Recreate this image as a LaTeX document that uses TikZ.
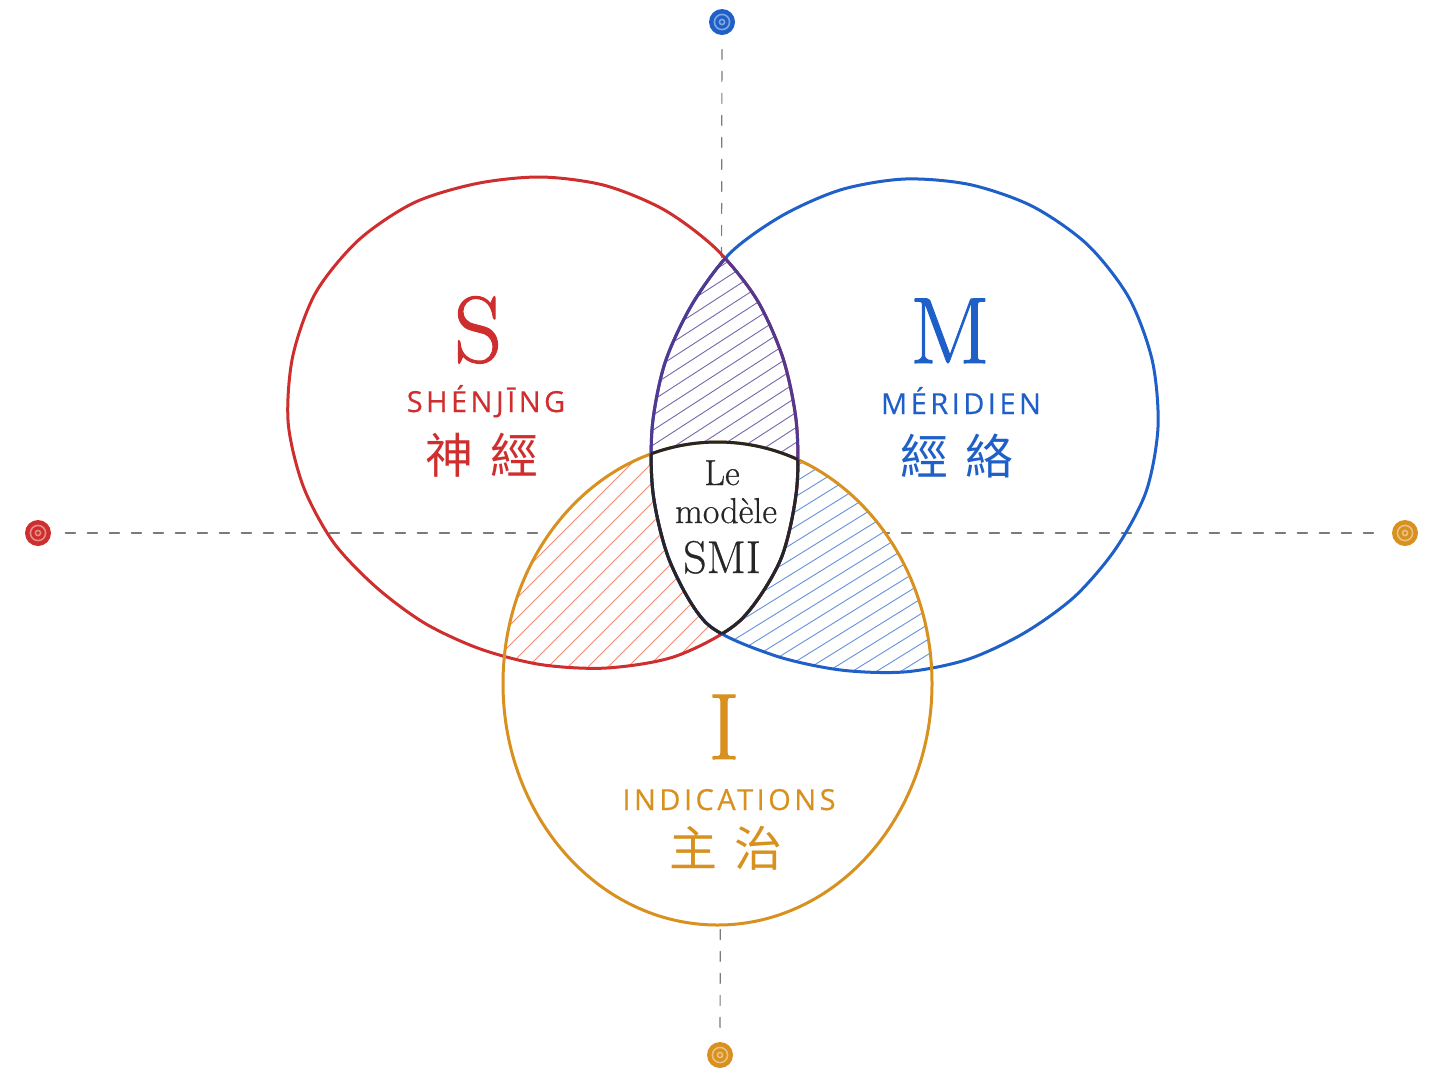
\documentclass[tikz,border=0pt]{standalone}
\usepackage{fontspec}
\usepackage{tikz}
\usetikzlibrary{positioning}
\newfontfamily\capsfont[LetterSpace=12, FakeBold=0.4]{Open Sans}
\newfontfamily\hanfont{Noto Sans CJK TC}
\newfontfamily\initialfont[FakeBold=1.2]{Latin Modern Roman}
\newfontfamily\modelfont[FakeBold=0.6]{Latin Modern Roman}
\definecolor{smired}{HTML}{CF2E2E}
\definecolor{smiblue}{HTML}{1F5FC8}
\definecolor{smiorange}{HTML}{D8901E}
\definecolor{smipurple}{HTML}{533892}
\definecolor{hatchred}{HTML}{EF8C72}
\definecolor{hatchblue}{HTML}{6592DB}
\definecolor{hatchpurple}{HTML}{7767AC}
\definecolor{axisgray}{HTML}{7A7A7A}
\tikzset{
	every picture/.style={line join=round, line cap=round},
	rim/.style = {line width=1.5pt},
	hatchline/.style = {line width=0.45pt},
	axis/.style = {axisgray, line width=0.6pt, dash pattern=on 5pt off 6pt, shorten <=7pt, shorten >=7pt},
	seal/.style = {circle, minimum size=13pt, inner sep=0pt},
	bigletter/.style = {font=\initialfont\fontsize{47}{50}\selectfont, anchor=base},
	latinlabel/.style = {font=\capsfont\fontsize{14.5}{16}\selectfont, anchor=base},
	hanlabel/.style = {font=\hanfont\fontsize{24}{26}\selectfont},
	centretext/.style = {font=\modelfont\fontsize{18}{20}\selectfont, anchor=base, text=black!85}
}
% S and M are drawn by hand: points every 15 degrees round their centres
\newcommand{\redshape}{plot[smooth cycle] coordinates {(796.4,423) (796.4,491.4) (780,561) (739.3,621.3) (675.7,656.2) (606.6,668) (541,664.6) (480.4,649) (425.2,623.5) (376.5,587.5) (333.7,542.7) (303.4,486.7) (288.2,423) (292.7,356.5) (315.6,292.8) (358.3,240.3) (413.8,202.8) (476.8,183.5) (541,177) (604.7,185.4) (664.1,209.8) (715.6,248.4) (756.3,298.7) (783,358.2)}}
\newcommand{\blueshape}{plot[smooth cycle] coordinates {(1158,427) (1146.1,491.6) (1115.7,548.7) (1074.6,596.6) (1024,633.1) (967.3,659.5) (905,671.9) (839.9,669.9) (773.3,655.1) (707.7,624.3) (670.3,562.5) (653.2,494.5) (652.2,427) (665,362.7) (692.2,304.1) (730.6,252.6) (782.7,215.3) (841.4,189.6) (905,179) (970,184.6) (1032.4,206.3) (1087.4,244.6) (1128.9,297.7) (1152.3,360.7)}}
\newcommand{\orangeshape}{(717.5,683.5) ellipse [x radius=214.5, y radius=241.5]}

\begin{document}
\begin{tikzpicture}[x=0.5pt, y=-0.5pt]
	\useasboundingbox (0,0) rectangle (1444,1089);
	
	% seals at the ends of the axes
	\node[seal, fill=smiblue] (north) at (722,22) {};
	\node[seal, fill=smiorange] (south) at (720,1055) {};
	\node[seal, fill=smired] (west) at (38,533) {};
	\node[seal, fill=smiorange] (east) at (1405,533) {};
	\foreach \s in {north,south,west,east}
		\draw[white, opacity=0.45, line width=0.8pt] (\s.center) circle [radius=3.8pt] (\s.center) circle [radius=1.3pt];
	
	\draw[axis] (north) -- (south);
	\draw[axis] (west) -- (east);
	
	% paper under the overlaps
	\fill[white] \orangeshape;
	\begin{scope}
		\clip \redshape;
		\fill[white] \blueshape;
	\end{scope}
	
	% hatching: S and M
	\begin{scope}
		\clip \redshape; \clip \blueshape;
		\foreach \y in {250,265,...,580}
			\draw[hatchline, hatchpurple] (630,\y) -- ++(190,-123);
	\end{scope}
	% hatching: S and I
	\begin{scope}
		\clip \redshape; \clip \orangeshape;
		\foreach \y in {440,460,...,1000}
			\draw[hatchline, hatchred] (495,\y) -- ++(310,-310);
	\end{scope}
	% hatching: M and I
	\begin{scope}
		\clip \blueshape; \clip \orangeshape;
		\foreach \y in {440,455,...,880}
			\draw[hatchline, hatchblue] (645,\y) -- ++(295,-183);
	\end{scope}
	% the model itself
	\begin{scope}
		\clip \redshape; \clip \blueshape;
		\fill[white] \orangeshape;
	\end{scope}
	
	% rims
	\draw[rim, smired] \redshape;
	\draw[rim, smiblue] \blueshape;
	\draw[rim, smiorange] \orangeshape;
	
	\begin{scope}
		\clip \blueshape;
		\draw[rim, smipurple] \redshape;
	\end{scope}
	\begin{scope}
		\clip \redshape;
		\draw[rim, smipurple] \blueshape;
	\end{scope}
	\begin{scope}
		\clip \blueshape; \clip \orangeshape;
		\draw[rim, black!85] \redshape;
	\end{scope}
	\begin{scope}
		\clip \redshape; \clip \orangeshape;
		\draw[rim, black!85] \blueshape;
	\end{scope}
	\begin{scope}
		\clip \redshape; \clip \blueshape;
		\draw[rim, black!85] \orangeshape;
	\end{scope}
	
	% labels
	\node[bigletter, smired] (sletter) at (478,362) {S};
	\node[latinlabel, smired] (spinyin) at (486,412) {SHÉNJĪNG};
	\node[hanlabel, smired] (shan) at (482,455) {神\hspace{0.35em}經};
	
	\node[bigletter, smiblue] (mletter) at (950,363) {M};
	\node[latinlabel, smiblue] (mfrench) at (961,414) {MÉRIDIEN};
	\node[hanlabel, smiblue] (mhan) at (957,456) {經\hspace{0.35em}絡};
	
	\node[bigletter, smiorange] (iletter) at (724,759) {I};
	\node[latinlabel, smiorange] (ifrench) at (729,810) {INDICATIONS};
	\node[hanlabel, smiorange] (ihan) at (726,848) {主\hspace{0.35em}治};
	
	\node[centretext] (le) at (722,485) {Le};
	\node[centretext] (modele) at (726,523) {modèle};
	\node[centretext, font=\modelfont\fontsize{23}{25}\selectfont] (smi) at (722,573) {SMI};
\end{tikzpicture}
\end{document}
